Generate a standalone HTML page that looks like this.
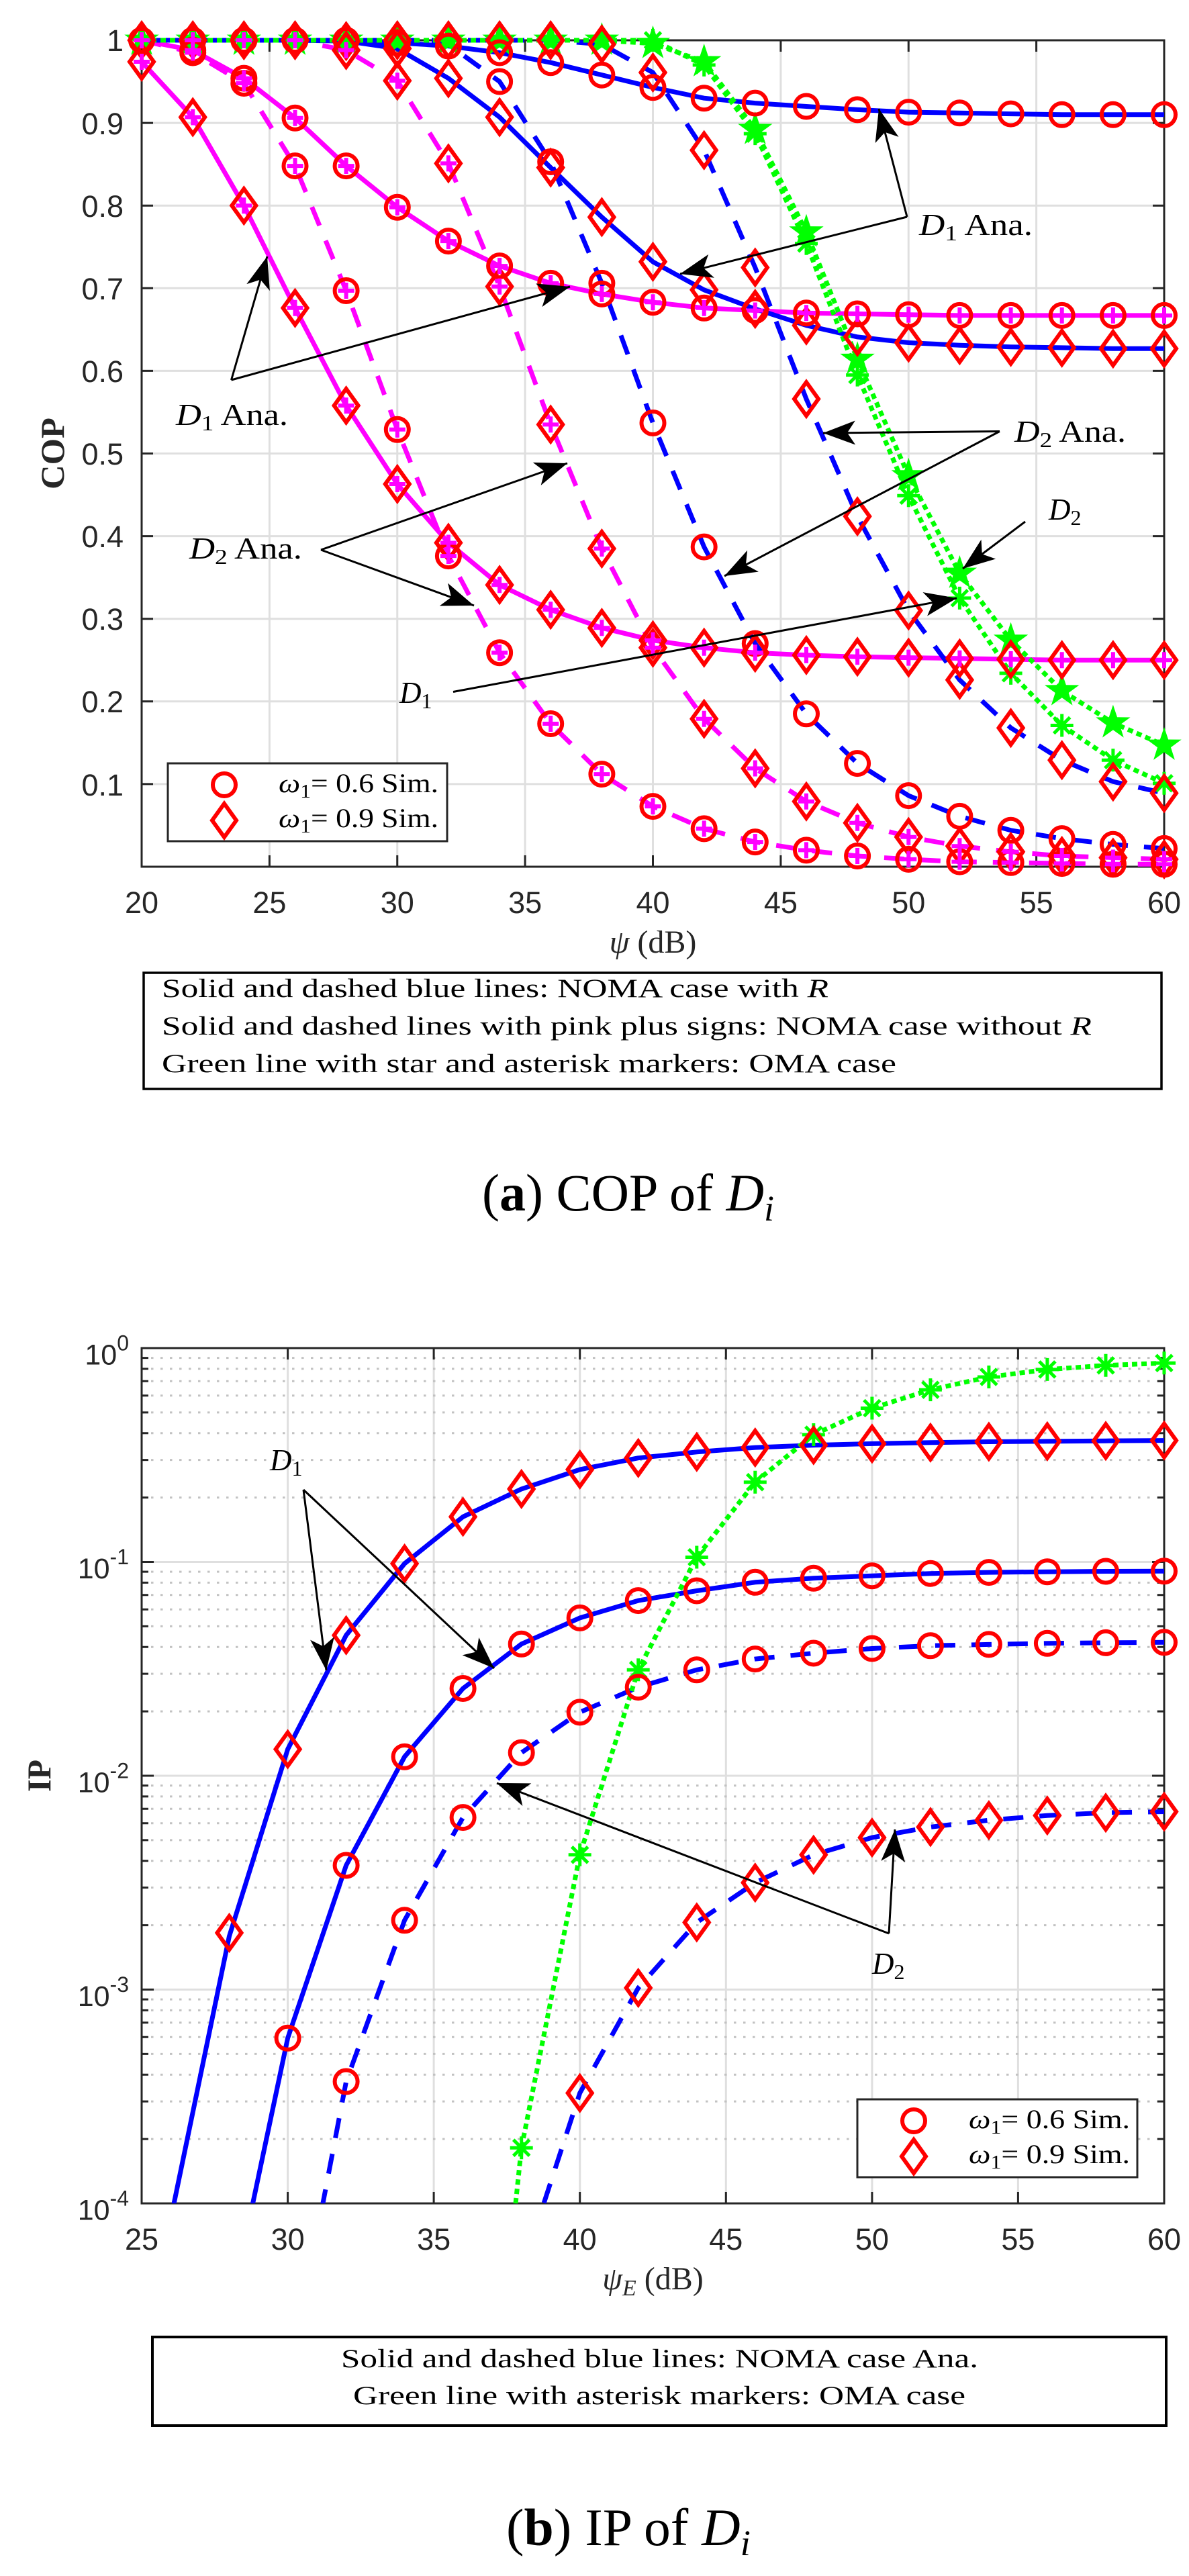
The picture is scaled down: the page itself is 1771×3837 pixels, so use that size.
<!DOCTYPE html>
<html><head><meta charset="utf-8"><style>html,body{margin:0;padding:0;background:#fff}svg{display:block}</style></head>
<body>
<svg xmlns="http://www.w3.org/2000/svg" width="1771" height="3837" viewBox="0 0 1771 3837" font-family="'Liberation Serif', serif">
<defs>
<g id="ci"><circle cx="0" cy="0" r="17" fill="none" stroke="#ff0000" stroke-width="6"/></g>
<g id="di"><path d="M0,-25L18,0L0,25L-18,0Z" fill="none" stroke="#ff0000" stroke-width="6" stroke-linejoin="miter"/></g>
<g id="pl"><path d="M-12,0H12M0,-12V12" stroke="#ff00ff" stroke-width="6"/></g>
<g id="st"><path d="M0,-27L6.17,-8.49L25.68,-8.34L9.99,3.24L15.87,21.84L0,10.5L-15.87,21.84L-9.99,3.24L-25.68,-8.34L-6.17,-8.49Z" fill="#00ff00"/></g>
<g id="as"><path d="M-17,0H17M0,-17V17M-12,-12L12,12M-12,12L12,-12" stroke="#00ff00" stroke-width="5"/></g>
<marker id="ah" markerUnits="userSpaceOnUse" viewBox="-50 -25 55 50" markerWidth="55" markerHeight="50" refX="0" refY="0" orient="auto"><path d="M0,0L-48,-18L-36,0L-48,18Z" fill="#000"/></marker>
<clipPath id="cb"><rect x="211" y="2008" width="1523" height="1274"/></clipPath>
</defs>

<!-- ================= PLOT A ================= -->
<g stroke="#dfdfdf" stroke-width="3" fill="none">
<path d="M401.4,60V1291M591.75,60V1291M782.1,60V1291M972.5,60V1291M1162.9,60V1291M1353.25,60V1291M1543.6,60V1291"/>
<path d="M211,1167.9H1734M211,1044.8H1734M211,921.7H1734M211,798.6H1734M211,675.5H1734M211,552.4H1734M211,429.3H1734M211,306.2H1734M211,183.1H1734"/>
</g>
<g stroke="#262626" stroke-width="3" fill="none">
<rect x="211" y="60" width="1523" height="1231"/>
<path d="M401.4,1291v-17M591.75,1291v-17M782.1,1291v-17M972.5,1291v-17M1162.9,1291v-17M1353.25,1291v-17M1543.6,1291v-17M401.4,60v17M591.75,60v17M782.1,60v17M972.5,60v17M1162.9,60v17M1353.25,60v17M1543.6,60v17"/>
<path d="M211,1167.9h17M211,1044.8h17M211,921.7h17M211,798.6h17M211,675.5h17M211,552.4h17M211,429.3h17M211,306.2h17M211,183.1h17M1734,1167.9h-17M1734,1044.8h-17M1734,921.7h-17M1734,798.6h-17M1734,675.5h-17M1734,552.4h-17M1734,429.3h-17M1734,306.2h-17M1734,183.1h-17"/>
</g>
<g font-family="'Liberation Sans', sans-serif" font-size="45" fill="#262626" text-anchor="end">
<text x="184" y="76">1</text><text x="184" y="200">0.9</text><text x="184" y="323">0.8</text><text x="184" y="446">0.7</text><text x="184" y="569">0.6</text><text x="184" y="692">0.5</text><text x="184" y="815">0.4</text><text x="184" y="938">0.3</text><text x="184" y="1061">0.2</text><text x="184" y="1185">0.1</text>
</g>
<g font-family="'Liberation Sans', sans-serif" font-size="45" fill="#262626" text-anchor="middle">
<text x="211" y="1360">20</text><text x="401.4" y="1360">25</text><text x="591.75" y="1360">30</text><text x="782.1" y="1360">35</text><text x="972.5" y="1360">40</text><text x="1162.9" y="1360">45</text><text x="1353.25" y="1360">50</text><text x="1543.6" y="1360">55</text><text x="1734" y="1360">60</text>
</g>
<text x="972.5" y="1419" font-size="48" text-anchor="middle" fill="#262626"><tspan font-style="italic">ψ</tspan> (dB)</text>
<text transform="translate(95,675.5) rotate(-90)" text-anchor="middle" font-weight="bold" font-size="50" fill="#262626" textLength="107" lengthAdjust="spacingAndGlyphs">COP</text>

<!-- lines a -->
<g fill="none" stroke-width="7" stroke-linejoin="round">
<polyline stroke="#ff00ff" points="211,60 287.2,74.8 363.3,116.6 439.5,175.7 515.6,247.1 591.8,308.7 667.9,359.1 744.1,396.1 820.2,421.9 896.4,437.9 972.5,450.2 1048.7,458.8 1124.8,462.5 1201,466.2 1277.1,467.5 1353.3,468.7 1429.4,469.9 1505.6,469.9 1581.7,469.9 1657.9,469.9 1734,469.9"/>
<polyline stroke="#ff00ff" points="211,92 287.2,174.5 363.3,306.2 439.5,458.8 515.6,604.1 591.8,721 667.9,808.5 744.1,871.2 820.2,908.2 896.4,935.2 972.5,953.7 1048.7,964.8 1124.8,972.2 1201,975.9 1277.1,978.3 1353.3,979.6 1429.4,980.8 1505.6,982 1581.7,983.3 1657.9,983.3 1734,983.3"/>
<polyline stroke="#ff00ff" stroke-dasharray="30 24" points="211,60 287.2,78.5 363.3,124 439.5,247.1 515.6,433 591.8,639.8 667.9,828.1 744.1,972.2 820.2,1078 896.4,1153.1 972.5,1201.1 1048.7,1234.4 1124.8,1254.1 1201,1266.4 1277.1,1275 1353.3,1279.9 1429.4,1283.6 1505.6,1284.8 1581.7,1286.1 1657.9,1287.3 1734,1287.3"/>
<polyline stroke="#ff00ff" stroke-dasharray="30 24" points="211,60 287.2,60 363.3,60 439.5,60 515.6,74.8 591.8,120.3 667.9,243.4 744.1,426.8 820.2,632.4 896.4,817.1 972.5,964.8 1048.7,1070.7 1124.8,1144.5 1201,1193.8 1277.1,1225.8 1353.3,1246.7 1429.4,1260.2 1505.6,1268.8 1581.7,1275 1657.9,1277.5 1734,1279.9"/>
<polyline stroke="#0000ff" points="211,60 287.2,60 363.3,60 439.5,60 515.6,60 591.8,63.7 667.9,68.6 744.1,78.5 820.2,93.2 896.4,111.7 972.5,130.2 1048.7,146.2 1124.8,153.6 1201,158.5 1277.1,163.4 1353.3,167.1 1429.4,168.3 1505.6,169.6 1581.7,170.8 1657.9,170.8 1734,170.8"/>
<polyline stroke="#0000ff" points="211,60 287.2,60 363.3,60 439.5,60 515.6,61.2 591.8,72.3 667.9,116.6 744.1,174.5 820.2,249.6 896.4,323.4 972.5,389.9 1048.7,431.8 1124.8,460.1 1201,484.7 1277.1,501.9 1353.3,510.5 1429.4,514.2 1505.6,516.7 1581.7,517.9 1657.9,519.2 1734,519.2"/>
<polyline stroke="#0000ff" stroke-dasharray="30 24" points="211,60 287.2,60 363.3,60 439.5,60 515.6,60 591.8,60 667.9,66.2 744.1,121.5 820.2,241 896.4,421.9 972.5,630 1048.7,814.6 1124.8,958.6 1201,1063.3 1277.1,1137.1 1353.3,1185.1 1429.4,1215.9 1505.6,1236.8 1581.7,1249.1 1657.9,1257.8 1734,1263.9"/>
<polyline stroke="#0000ff" stroke-dasharray="30 24" points="211,60 287.2,60 363.3,60 439.5,60 515.6,60 591.8,60 667.9,60 744.1,60 820.2,60 896.4,66 972.5,108 1048.7,223.7 1124.8,398.5 1201,594.3 1277.1,769.1 1353.3,909.4 1429.4,1012.8 1505.6,1084.2 1581.7,1132.2 1657.9,1164.2 1734,1181.4"/>
<polyline stroke="#00ff00" stroke-dasharray="8 6" points="211,60 287.2,60 363.3,60 439.5,60 515.6,60 591.8,60 667.9,60 744.1,60 820.2,60 896.4,60 972.5,64.9 1048.7,92 1124.8,192.9 1201,345.6 1277.1,535.2 1353.3,708.7 1429.4,854 1505.6,953.7 1581.7,1028.8 1657.9,1076.8 1734,1110"/>
<polyline stroke="#00ff00" stroke-dasharray="8 6" points="211,60 287.2,60 363.3,60 439.5,60 515.6,60 591.8,60 667.9,60 744.1,60 820.2,60 896.4,60 972.5,60 1048.7,96.9 1124.8,199.1 1201,362.8 1277.1,558.6 1353.3,738.3 1429.4,890.9 1505.6,1002.9 1581.7,1080.5 1657.9,1132.2 1734,1166.7"/>
</g>
<!-- green markers a -->
<g>
<use href="#st" x="211" y="60"/><use href="#st" x="287.2" y="60"/><use href="#st" x="363.3" y="60"/><use href="#st" x="439.5" y="60"/><use href="#st" x="515.6" y="60"/><use href="#st" x="591.8" y="60"/><use href="#st" x="667.9" y="60"/><use href="#st" x="744.1" y="60"/><use href="#st" x="820.2" y="60"/><use href="#st" x="896.4" y="60"/><use href="#st" x="972.5" y="64.9"/><use href="#st" x="1048.7" y="92"/><use href="#st" x="1124.8" y="192.9"/><use href="#st" x="1201" y="345.6"/><use href="#st" x="1277.1" y="535.2"/><use href="#st" x="1353.3" y="708.7"/><use href="#st" x="1429.4" y="854"/><use href="#st" x="1505.6" y="953.7"/><use href="#st" x="1581.7" y="1028.8"/><use href="#st" x="1657.9" y="1076.8"/><use href="#st" x="1734" y="1110"/>
<use href="#as" x="972.5" y="60"/><use href="#as" x="1048.7" y="96.9"/><use href="#as" x="1124.8" y="199.1"/><use href="#as" x="1201" y="362.8"/><use href="#as" x="1277.1" y="558.6"/><use href="#as" x="1353.3" y="738.3"/><use href="#as" x="1429.4" y="890.9"/><use href="#as" x="1505.6" y="1002.9"/><use href="#as" x="1581.7" y="1080.5"/><use href="#as" x="1657.9" y="1132.2"/><use href="#as" x="1734" y="1166.7"/>
</g>
<!-- red circles a -->
<g>
<use href="#ci" x="211" y="60"/><use href="#ci" x="287.2" y="60"/><use href="#ci" x="363.3" y="60"/><use href="#ci" x="439.5" y="60"/><use href="#ci" x="515.6" y="60"/><use href="#ci" x="591.8" y="63.7"/><use href="#ci" x="667.9" y="68.6"/><use href="#ci" x="744.1" y="78.5"/><use href="#ci" x="820.2" y="93.2"/><use href="#ci" x="896.4" y="111.7"/><use href="#ci" x="972.5" y="130.2"/><use href="#ci" x="1048.7" y="146.2"/><use href="#ci" x="1124.8" y="153.6"/><use href="#ci" x="1201" y="158.5"/><use href="#ci" x="1277.1" y="163.4"/><use href="#ci" x="1353.3" y="167.1"/><use href="#ci" x="1429.4" y="168.3"/><use href="#ci" x="1505.6" y="169.6"/><use href="#ci" x="1581.7" y="170.8"/><use href="#ci" x="1657.9" y="170.8"/><use href="#ci" x="1734" y="170.8"/>
<use href="#ci" x="744.1" y="121.5"/><use href="#ci" x="820.2" y="241"/><use href="#ci" x="896.4" y="421.9"/><use href="#ci" x="972.5" y="630"/><use href="#ci" x="1048.7" y="814.6"/><use href="#ci" x="1124.8" y="958.6"/><use href="#ci" x="1201" y="1063.3"/><use href="#ci" x="1277.1" y="1137.1"/><use href="#ci" x="1353.3" y="1185.1"/><use href="#ci" x="1429.4" y="1215.9"/><use href="#ci" x="1505.6" y="1236.8"/><use href="#ci" x="1581.7" y="1249.1"/><use href="#ci" x="1657.9" y="1257.8"/><use href="#ci" x="1734" y="1263.9"/>
<use href="#ci" x="287.2" y="74.8"/><use href="#ci" x="363.3" y="116.6"/><use href="#ci" x="439.5" y="175.7"/><use href="#ci" x="515.6" y="247.1"/><use href="#ci" x="591.8" y="308.7"/><use href="#ci" x="667.9" y="359.1"/><use href="#ci" x="744.1" y="396.1"/><use href="#ci" x="820.2" y="421.9"/><use href="#ci" x="896.4" y="437.9"/><use href="#ci" x="972.5" y="450.2"/><use href="#ci" x="1048.7" y="458.8"/><use href="#ci" x="1124.8" y="462.5"/><use href="#ci" x="1201" y="466.2"/><use href="#ci" x="1277.1" y="467.5"/><use href="#ci" x="1353.3" y="468.7"/><use href="#ci" x="1429.4" y="469.9"/><use href="#ci" x="1505.6" y="469.9"/><use href="#ci" x="1581.7" y="469.9"/><use href="#ci" x="1657.9" y="469.9"/><use href="#ci" x="1734" y="469.9"/>
<use href="#ci" x="287.2" y="78.5"/><use href="#ci" x="363.3" y="124"/><use href="#ci" x="439.5" y="247.1"/><use href="#ci" x="515.6" y="433"/><use href="#ci" x="591.8" y="639.8"/><use href="#ci" x="667.9" y="828.1"/><use href="#ci" x="744.1" y="972.2"/><use href="#ci" x="820.2" y="1078"/><use href="#ci" x="896.4" y="1153.1"/><use href="#ci" x="972.5" y="1201.1"/><use href="#ci" x="1048.7" y="1234.4"/><use href="#ci" x="1124.8" y="1254.1"/><use href="#ci" x="1201" y="1266.4"/><use href="#ci" x="1277.1" y="1275"/><use href="#ci" x="1353.3" y="1279.9"/><use href="#ci" x="1429.4" y="1283.6"/><use href="#ci" x="1505.6" y="1284.8"/><use href="#ci" x="1581.7" y="1286.1"/><use href="#ci" x="1657.9" y="1287.3"/><use href="#ci" x="1734" y="1287.3"/>
</g>
<!-- red diamonds a -->
<g>
<use href="#di" x="211" y="60"/><use href="#di" x="287.2" y="60"/><use href="#di" x="363.3" y="60"/><use href="#di" x="439.5" y="60"/><use href="#di" x="515.6" y="61.2"/><use href="#di" x="591.8" y="72.3"/><use href="#di" x="667.9" y="116.6"/><use href="#di" x="744.1" y="174.5"/><use href="#di" x="820.2" y="249.6"/><use href="#di" x="896.4" y="323.4"/><use href="#di" x="972.5" y="389.9"/><use href="#di" x="1048.7" y="431.8"/><use href="#di" x="1124.8" y="460.1"/><use href="#di" x="1201" y="484.7"/><use href="#di" x="1277.1" y="501.9"/><use href="#di" x="1353.3" y="510.5"/><use href="#di" x="1429.4" y="514.2"/><use href="#di" x="1505.6" y="516.7"/><use href="#di" x="1581.7" y="517.9"/><use href="#di" x="1657.9" y="519.2"/><use href="#di" x="1734" y="519.2"/>
<use href="#di" x="591.8" y="60"/><use href="#di" x="667.9" y="60"/><use href="#di" x="744.1" y="60"/><use href="#di" x="820.2" y="60"/><use href="#di" x="896.4" y="66"/><use href="#di" x="972.5" y="108"/><use href="#di" x="1048.7" y="223.7"/><use href="#di" x="1124.8" y="398.5"/><use href="#di" x="1201" y="594.3"/><use href="#di" x="1277.1" y="769.1"/><use href="#di" x="1353.3" y="909.4"/><use href="#di" x="1429.4" y="1012.8"/><use href="#di" x="1505.6" y="1084.2"/><use href="#di" x="1581.7" y="1132.2"/><use href="#di" x="1657.9" y="1164.2"/><use href="#di" x="1734" y="1181.4"/>
<use href="#di" x="211" y="92"/><use href="#di" x="287.2" y="174.5"/><use href="#di" x="363.3" y="306.2"/><use href="#di" x="439.5" y="458.8"/><use href="#di" x="515.6" y="604.1"/><use href="#di" x="591.8" y="721"/><use href="#di" x="667.9" y="808.5"/><use href="#di" x="744.1" y="871.2"/><use href="#di" x="820.2" y="908.2"/><use href="#di" x="896.4" y="935.2"/><use href="#di" x="972.5" y="953.7"/><use href="#di" x="1048.7" y="964.8"/><use href="#di" x="1124.8" y="972.2"/><use href="#di" x="1201" y="975.9"/><use href="#di" x="1277.1" y="978.3"/><use href="#di" x="1353.3" y="979.6"/><use href="#di" x="1429.4" y="980.8"/><use href="#di" x="1505.6" y="982"/><use href="#di" x="1581.7" y="983.3"/><use href="#di" x="1657.9" y="983.3"/><use href="#di" x="1734" y="983.3"/>
<use href="#di" x="515.6" y="74.8"/><use href="#di" x="591.8" y="120.3"/><use href="#di" x="667.9" y="243.4"/><use href="#di" x="744.1" y="426.8"/><use href="#di" x="820.2" y="632.4"/><use href="#di" x="896.4" y="817.1"/><use href="#di" x="972.5" y="964.8"/><use href="#di" x="1048.7" y="1070.7"/><use href="#di" x="1124.8" y="1144.5"/><use href="#di" x="1201" y="1193.8"/><use href="#di" x="1277.1" y="1225.8"/><use href="#di" x="1353.3" y="1246.7"/><use href="#di" x="1429.4" y="1260.2"/><use href="#di" x="1505.6" y="1268.8"/><use href="#di" x="1581.7" y="1275"/><use href="#di" x="1657.9" y="1277.5"/><use href="#di" x="1734" y="1279.9"/>
</g>
<!-- magenta plus a -->
<g>
<use href="#pl" x="211" y="60"/><use href="#pl" x="287.2" y="74.8"/><use href="#pl" x="363.3" y="116.6"/><use href="#pl" x="439.5" y="175.7"/><use href="#pl" x="515.6" y="247.1"/><use href="#pl" x="591.8" y="308.7"/><use href="#pl" x="667.9" y="359.1"/><use href="#pl" x="744.1" y="396.1"/><use href="#pl" x="820.2" y="421.9"/><use href="#pl" x="896.4" y="437.9"/><use href="#pl" x="972.5" y="450.2"/><use href="#pl" x="1048.7" y="458.8"/><use href="#pl" x="1124.8" y="462.5"/><use href="#pl" x="1201" y="466.2"/><use href="#pl" x="1277.1" y="467.5"/><use href="#pl" x="1353.3" y="468.7"/><use href="#pl" x="1429.4" y="469.9"/><use href="#pl" x="1505.6" y="469.9"/><use href="#pl" x="1581.7" y="469.9"/><use href="#pl" x="1657.9" y="469.9"/><use href="#pl" x="1734" y="469.9"/>
<use href="#pl" x="211" y="92"/><use href="#pl" x="287.2" y="174.5"/><use href="#pl" x="363.3" y="306.2"/><use href="#pl" x="439.5" y="458.8"/><use href="#pl" x="515.6" y="604.1"/><use href="#pl" x="591.8" y="721"/><use href="#pl" x="667.9" y="808.5"/><use href="#pl" x="744.1" y="871.2"/><use href="#pl" x="820.2" y="908.2"/><use href="#pl" x="896.4" y="935.2"/><use href="#pl" x="972.5" y="953.7"/><use href="#pl" x="1048.7" y="964.8"/><use href="#pl" x="1124.8" y="972.2"/><use href="#pl" x="1201" y="975.9"/><use href="#pl" x="1277.1" y="978.3"/><use href="#pl" x="1353.3" y="979.6"/><use href="#pl" x="1429.4" y="980.8"/><use href="#pl" x="1505.6" y="982"/><use href="#pl" x="1581.7" y="983.3"/><use href="#pl" x="1657.9" y="983.3"/><use href="#pl" x="1734" y="983.3"/>
<use href="#pl" x="287.2" y="78.5"/><use href="#pl" x="363.3" y="124"/><use href="#pl" x="439.5" y="247.1"/><use href="#pl" x="515.6" y="433"/><use href="#pl" x="591.8" y="639.8"/><use href="#pl" x="667.9" y="828.1"/><use href="#pl" x="744.1" y="972.2"/><use href="#pl" x="820.2" y="1078"/><use href="#pl" x="896.4" y="1153.1"/><use href="#pl" x="972.5" y="1201.1"/><use href="#pl" x="1048.7" y="1234.4"/><use href="#pl" x="1124.8" y="1254.1"/><use href="#pl" x="1201" y="1266.4"/><use href="#pl" x="1277.1" y="1275"/><use href="#pl" x="1353.3" y="1279.9"/><use href="#pl" x="1429.4" y="1283.6"/><use href="#pl" x="1505.6" y="1284.8"/><use href="#pl" x="1581.7" y="1286.1"/><use href="#pl" x="1657.9" y="1287.3"/><use href="#pl" x="1734" y="1287.3"/>
<use href="#pl" x="287.2" y="60"/><use href="#pl" x="363.3" y="60"/><use href="#pl" x="439.5" y="60"/><use href="#pl" x="515.6" y="74.8"/><use href="#pl" x="591.8" y="120.3"/><use href="#pl" x="667.9" y="243.4"/><use href="#pl" x="744.1" y="426.8"/><use href="#pl" x="820.2" y="632.4"/><use href="#pl" x="896.4" y="817.1"/><use href="#pl" x="972.5" y="964.8"/><use href="#pl" x="1048.7" y="1070.7"/><use href="#pl" x="1124.8" y="1144.5"/><use href="#pl" x="1201" y="1193.8"/><use href="#pl" x="1277.1" y="1225.8"/><use href="#pl" x="1353.3" y="1246.7"/><use href="#pl" x="1429.4" y="1260.2"/><use href="#pl" x="1505.6" y="1268.8"/><use href="#pl" x="1581.7" y="1275"/><use href="#pl" x="1657.9" y="1277.5"/><use href="#pl" x="1734" y="1279.9"/>
</g>
<!-- legend a -->
<rect x="250" y="1137" width="416" height="116" fill="#fff" stroke="#262626" stroke-width="3"/>
<use href="#ci" x="334" y="1169"/><use href="#di" x="334" y="1222"/>
<text x="415" y="1180" font-size="40" textLength="238" lengthAdjust="spacingAndGlyphs"><tspan font-style="italic">ω</tspan><tspan font-size="28" dy="8">1</tspan><tspan dy="-8">= 0.6 Sim.</tspan></text>
<text x="415" y="1232" font-size="40" textLength="238" lengthAdjust="spacingAndGlyphs"><tspan font-style="italic">ω</tspan><tspan font-size="28" dy="8">1</tspan><tspan dy="-8">= 0.9 Sim.</tspan></text>
<!-- annotations a -->
<g stroke="#000" stroke-width="3" marker-end="url(#ah)">
<line x1="1351" y1="323" x2="1309" y2="162"/>
<line x1="1351" y1="323" x2="1013" y2="408"/>
<line x1="344.5" y1="566" x2="398" y2="382"/>
<line x1="344.5" y1="566" x2="849" y2="427"/>
<line x1="1489" y1="642.5" x2="1226" y2="645"/>
<line x1="1489" y1="642.5" x2="1079" y2="858"/>
<line x1="478" y1="819" x2="845" y2="690"/>
<line x1="478" y1="819" x2="706" y2="902"/>
<line x1="1527" y1="777" x2="1434" y2="847"/>
<line x1="675" y1="1030.5" x2="1425" y2="891"/>
</g>
<g font-size="45" fill="#000">
<text x="1369" y="350" textLength="169" lengthAdjust="spacingAndGlyphs"><tspan font-style="italic">D</tspan><tspan font-size="32" dy="8">1</tspan><tspan dy="-8"> Ana.</tspan></text>
<text x="262" y="633" textLength="167" lengthAdjust="spacingAndGlyphs"><tspan font-style="italic">D</tspan><tspan font-size="32" dy="8">1</tspan><tspan dy="-8"> Ana.</tspan></text>
<text x="1511" y="658" textLength="166" lengthAdjust="spacingAndGlyphs"><tspan font-style="italic">D</tspan><tspan font-size="32" dy="8">2</tspan><tspan dy="-8"> Ana.</tspan></text>
<text x="282" y="832" textLength="168" lengthAdjust="spacingAndGlyphs"><tspan font-style="italic">D</tspan><tspan font-size="32" dy="8">2</tspan><tspan dy="-8"> Ana.</tspan></text>
<text x="1562" y="774"><tspan font-style="italic">D</tspan><tspan font-size="32" dy="8">2</tspan></text>
<text x="595" y="1047"><tspan font-style="italic">D</tspan><tspan font-size="32" dy="8">1</tspan></text>
</g>
<!-- text box a -->
<rect x="214" y="1449" width="1516" height="173" fill="none" stroke="#000" stroke-width="3.5"/>
<g font-size="39" fill="#000">
<text x="241" y="1485" textLength="993" lengthAdjust="spacingAndGlyphs">Solid and dashed blue lines: NOMA case with <tspan font-style="italic">R</tspan></text>
<text x="241" y="1541" textLength="1385" lengthAdjust="spacingAndGlyphs">Solid and dashed lines with pink plus signs: NOMA case without <tspan font-style="italic">R</tspan></text>
<text x="241" y="1597" textLength="1094" lengthAdjust="spacingAndGlyphs">Green line with star and asterisk markers: OMA case</text>
</g>
<text x="718" y="1803" font-size="78" textLength="435" lengthAdjust="spacingAndGlyphs">(<tspan font-weight="bold">a</tspan>) COP of <tspan font-style="italic">D</tspan><tspan font-style="italic" font-size="54" dy="15">i</tspan></text>

<!-- ================= PLOT B ================= -->
<g stroke="#dfdfdf" stroke-width="3" fill="none">
<path d="M428.6,2008V3282M646.1,2008V3282M863.7,2008V3282M1081.3,2008V3282M1298.9,2008V3282M1516.4,2008V3282"/>
<path d="M211,2326.5H1734M211,2645H1734M211,2963.5H1734"/>
</g>
<path stroke="#c2c2c2" stroke-width="3" fill="none" stroke-dasharray="3.5 10.5" d="M211,2022.6H1734M211,2038.9H1734M211,2057.3H1734M211,2078.7H1734M211,2103.9H1734M211,2134.8H1734M211,2174.6H1734M211,2230.6H1734M211,2341.1H1734M211,2357.4H1734M211,2375.8H1734M211,2397.2H1734M211,2422.4H1734M211,2453.3H1734M211,2493.1H1734M211,2549.1H1734M211,2659.6H1734M211,2675.9H1734M211,2694.3H1734M211,2715.7H1734M211,2740.9H1734M211,2771.8H1734M211,2811.6H1734M211,2867.6H1734M211,2978.1H1734M211,2994.4H1734M211,3012.8H1734M211,3034.2H1734M211,3059.4H1734M211,3090.3H1734M211,3130.1H1734M211,3186.1H1734"/>
<g stroke="#262626" stroke-width="3" fill="none">
<rect x="211" y="2008" width="1523" height="1274"/>
<path d="M428.6,3282v-17M646.1,3282v-17M863.7,3282v-17M1081.3,3282v-17M1298.9,3282v-17M1516.4,3282v-17M428.6,2008v17M646.1,2008v17M863.7,2008v17M1081.3,2008v17M1298.9,2008v17M1516.4,2008v17"/>
<path d="M211,2326.5h18M211,2645h18M211,2963.5h18M1734,2326.5h-18M1734,2645h-18M1734,2963.5h-18"/>
<path d="M211,2022.6h10M211,2038.9h10M211,2057.3h10M211,2078.7h10M211,2103.9h10M211,2134.8h10M211,2174.6h10M211,2230.6h10M211,2341.1h10M211,2357.4h10M211,2375.8h10M211,2397.2h10M211,2422.4h10M211,2453.3h10M211,2493.1h10M211,2549.1h10M211,2659.6h10M211,2675.9h10M211,2694.3h10M211,2715.7h10M211,2740.9h10M211,2771.8h10M211,2811.6h10M211,2867.6h10M211,2978.1h10M211,2994.4h10M211,3012.8h10M211,3034.2h10M211,3059.4h10M211,3090.3h10M211,3130.1h10M211,3186.1h10"/>
<path d="M1734,2022.6h-10M1734,2038.9h-10M1734,2057.3h-10M1734,2078.7h-10M1734,2103.9h-10M1734,2134.8h-10M1734,2174.6h-10M1734,2230.6h-10M1734,2341.1h-10M1734,2357.4h-10M1734,2375.8h-10M1734,2397.2h-10M1734,2422.4h-10M1734,2453.3h-10M1734,2493.1h-10M1734,2549.1h-10M1734,2659.6h-10M1734,2675.9h-10M1734,2694.3h-10M1734,2715.7h-10M1734,2740.9h-10M1734,2771.8h-10M1734,2811.6h-10M1734,2867.6h-10M1734,2978.1h-10M1734,2994.4h-10M1734,3012.8h-10M1734,3034.2h-10M1734,3059.4h-10M1734,3090.3h-10M1734,3130.1h-10M1734,3186.1h-10"/>
</g>
<g font-family="'Liberation Sans', sans-serif" font-size="43" fill="#262626" text-anchor="end">
<text x="192" y="2032.5">10<tspan font-size="32" dy="-21">0</tspan></text>
<text x="192" y="2351">10<tspan font-size="32" dy="-21">-1</tspan></text>
<text x="192" y="2669.5">10<tspan font-size="32" dy="-21">-2</tspan></text>
<text x="192" y="2988">10<tspan font-size="32" dy="-21">-3</tspan></text>
<text x="192" y="3306.5">10<tspan font-size="32" dy="-21">-4</tspan></text>
</g>
<g font-family="'Liberation Sans', sans-serif" font-size="45" fill="#262626" text-anchor="middle">
<text x="211" y="3351">25</text><text x="428.6" y="3351">30</text><text x="646.1" y="3351">35</text><text x="863.7" y="3351">40</text><text x="1081.3" y="3351">45</text><text x="1298.9" y="3351">50</text><text x="1516.4" y="3351">55</text><text x="1734" y="3351">60</text>
</g>
<text x="972.5" y="3410" font-size="48" text-anchor="middle" fill="#262626"><tspan font-style="italic">ψ</tspan><tspan font-style="italic" font-size="34" dy="9">E</tspan><tspan dy="-9"> (dB)</tspan></text>
<text transform="translate(75,2645) rotate(-90)" text-anchor="middle" font-weight="bold" font-size="50" fill="#262626" textLength="48" lengthAdjust="spacingAndGlyphs">IP</text>

<g clip-path="url(#cb)" fill="none" stroke-width="7" stroke-linejoin="round">
<polyline stroke="#0000ff" points="254.5,3304.3 341.5,2884 428.6,2605.5 515.6,2435.7 602.6,2329 689.6,2259.3 776.7,2217.9 863.7,2188.9 950.7,2171.7 1037.8,2162.8 1124.8,2156.1 1211.8,2152.6 1298.9,2150.4 1385.9,2148.8 1472.9,2147.5 1559.9,2146.9 1647,2146.2 1734,2145.6"/>
<polyline stroke="#0000ff" points="341.5,3447.6 428.6,3035.8 515.6,2778.5 602.6,2616.7 689.6,2515 776.7,2448.8 863.7,2409.9 950.7,2384.1 1037.8,2369.5 1124.8,2356.8 1211.8,2350.7 1298.9,2347.2 1385.9,2343.7 1472.9,2342.1 1559.9,2341.2 1647,2340.5 1734,2340.2"/>
<polyline stroke="#0000ff" stroke-dasharray="30 24" points="428.6,3555.9 515.6,3100.5 602.6,2860.3 689.6,2707.1 776.7,2610.6 863.7,2550.4 950.7,2513.1 1037.8,2487.3 1124.8,2471.1 1211.8,2462.5 1298.9,2455.5 1385.9,2451.3 1472.9,2449.4 1559.9,2447.8 1647,2446.9 1734,2446.3"/>
<polyline stroke="#0000ff" stroke-dasharray="30 24" points="776.7,3383.9 863.7,3117.6 950.7,2961 1037.8,2863.5 1124.8,2804.3 1211.8,2762.8 1298.9,2737.1 1385.9,2721.4 1472.9,2711.2 1559.9,2704.2 1647,2700.1 1734,2698.5"/>
<polyline stroke="#00ff00" stroke-dasharray="8 6" points="768,3282 776.7,3199.2 863.7,2762.8 950.7,2487.3 1037.8,2319.5 1124.8,2207.7 1211.8,2137 1298.9,2097.5 1385.9,2070.1 1472.9,2051 1559.9,2039.9 1647,2033.8 1734,2030.3"/>
</g>
<g>
<use href="#as" x="776.7" y="3199.2"/><use href="#as" x="863.7" y="2762.8"/><use href="#as" x="950.7" y="2487.3"/><use href="#as" x="1037.8" y="2319.5"/><use href="#as" x="1124.8" y="2207.7"/><use href="#as" x="1211.8" y="2137"/><use href="#as" x="1298.9" y="2097.5"/><use href="#as" x="1385.9" y="2070.1"/><use href="#as" x="1472.9" y="2051"/><use href="#as" x="1559.9" y="2039.9"/><use href="#as" x="1647" y="2033.8"/><use href="#as" x="1734" y="2030.3"/>
</g>
<g>
<use href="#di" x="341.5" y="2879"/><use href="#di" x="428.6" y="2605.5"/><use href="#di" x="515.6" y="2435.7"/><use href="#di" x="602.6" y="2329"/><use href="#di" x="689.6" y="2259.3"/><use href="#di" x="776.7" y="2217.9"/><use href="#di" x="863.7" y="2188.9"/><use href="#di" x="950.7" y="2171.7"/><use href="#di" x="1037.8" y="2162.8"/><use href="#di" x="1124.8" y="2156.1"/><use href="#di" x="1211.8" y="2152.6"/><use href="#di" x="1298.9" y="2150.4"/><use href="#di" x="1385.9" y="2148.8"/><use href="#di" x="1472.9" y="2147.5"/><use href="#di" x="1559.9" y="2146.9"/><use href="#di" x="1647" y="2146.2"/><use href="#di" x="1734" y="2145.6"/>
<use href="#di" x="863.7" y="3117.6"/><use href="#di" x="950.7" y="2961"/><use href="#di" x="1037.8" y="2863.5"/><use href="#di" x="1124.8" y="2804.3"/><use href="#di" x="1211.8" y="2762.8"/><use href="#di" x="1298.9" y="2737.1"/><use href="#di" x="1385.9" y="2721.4"/><use href="#di" x="1472.9" y="2711.2"/><use href="#di" x="1559.9" y="2704.2"/><use href="#di" x="1647" y="2700.1"/><use href="#di" x="1734" y="2698.5"/>
<use href="#ci" x="428.6" y="3035.8"/><use href="#ci" x="515.6" y="2778.5"/><use href="#ci" x="602.6" y="2616.7"/><use href="#ci" x="689.6" y="2515"/><use href="#ci" x="776.7" y="2448.8"/><use href="#ci" x="863.7" y="2409.9"/><use href="#ci" x="950.7" y="2384.1"/><use href="#ci" x="1037.8" y="2369.5"/><use href="#ci" x="1124.8" y="2356.8"/><use href="#ci" x="1211.8" y="2350.7"/><use href="#ci" x="1298.9" y="2347.2"/><use href="#ci" x="1385.9" y="2343.7"/><use href="#ci" x="1472.9" y="2342.1"/><use href="#ci" x="1559.9" y="2341.2"/><use href="#ci" x="1647" y="2340.5"/><use href="#ci" x="1734" y="2340.2"/>
<use href="#ci" x="515.6" y="3100.5"/><use href="#ci" x="602.6" y="2860.3"/><use href="#ci" x="689.6" y="2707.1"/><use href="#ci" x="776.7" y="2610.6"/><use href="#ci" x="863.7" y="2550.4"/><use href="#ci" x="950.7" y="2513.1"/><use href="#ci" x="1037.8" y="2487.3"/><use href="#ci" x="1124.8" y="2471.1"/><use href="#ci" x="1211.8" y="2462.5"/><use href="#ci" x="1298.9" y="2455.5"/><use href="#ci" x="1385.9" y="2451.3"/><use href="#ci" x="1472.9" y="2449.4"/><use href="#ci" x="1559.9" y="2447.8"/><use href="#ci" x="1647" y="2446.9"/><use href="#ci" x="1734" y="2446.3"/>
</g>
<!-- legend b -->
<rect x="1277" y="3127" width="417" height="116" fill="#fff" stroke="#262626" stroke-width="3"/>
<use href="#ci" x="1361" y="3159"/><use href="#di" x="1361" y="3212"/>
<text x="1443" y="3170" font-size="40" textLength="240" lengthAdjust="spacingAndGlyphs"><tspan font-style="italic">ω</tspan><tspan font-size="28" dy="8">1</tspan><tspan dy="-8">= 0.6 Sim.</tspan></text>
<text x="1443" y="3222" font-size="40" textLength="240" lengthAdjust="spacingAndGlyphs"><tspan font-style="italic">ω</tspan><tspan font-size="28" dy="8">1</tspan><tspan dy="-8">= 0.9 Sim.</tspan></text>
<!-- annotations b -->
<g stroke="#000" stroke-width="3" marker-end="url(#ah)">
<line x1="452" y1="2219" x2="486" y2="2488"/>
<line x1="452" y1="2219" x2="736" y2="2485"/>
<line x1="1324" y1="2880" x2="1333" y2="2725"/>
<line x1="1324" y1="2880" x2="740" y2="2656"/>
</g>
<g font-size="45" fill="#000">
<text x="402" y="2190"><tspan font-style="italic">D</tspan><tspan font-size="32" dy="8">1</tspan></text>
<text x="1299" y="2940"><tspan font-style="italic">D</tspan><tspan font-size="32" dy="8">2</tspan></text>
</g>
<!-- text box b -->
<rect x="227" y="3481" width="1510" height="132" fill="none" stroke="#000" stroke-width="4"/>
<g font-size="39" fill="#000">
<text x="508" y="3526" textLength="949" lengthAdjust="spacingAndGlyphs">Solid and dashed blue lines: NOMA case Ana.</text>
<text x="526" y="3581" textLength="912" lengthAdjust="spacingAndGlyphs">Green line with asterisk markers: OMA case</text>
</g>
<text x="754" y="3791" font-size="78" textLength="364" lengthAdjust="spacingAndGlyphs">(<tspan font-weight="bold">b</tspan>) IP of <tspan font-style="italic">D</tspan><tspan font-style="italic" font-size="54" dy="15">i</tspan></text>
</svg>
</body></html>
